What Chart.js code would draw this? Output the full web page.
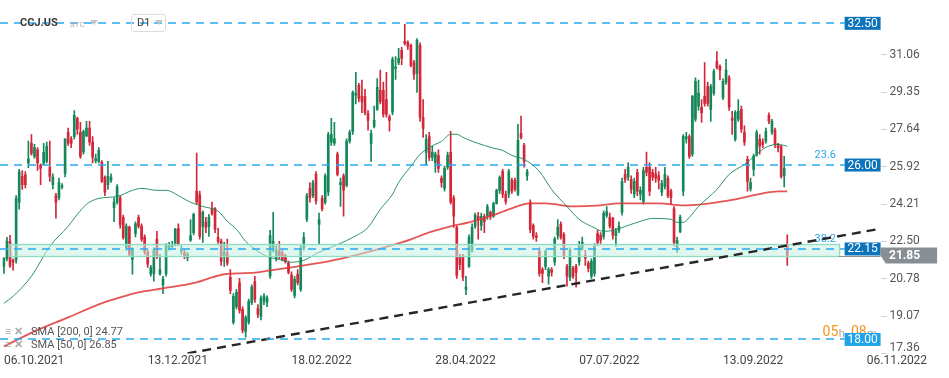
<!DOCTYPE html>
<html><head><meta charset="utf-8">
<script src="https://cdn.jsdelivr.net/npm/chart.js@4/dist/chart.umd.min.js"></script>
<style>
html,body{margin:0;padding:0;background:#fff;}
#wrap{position:relative;width:949px;height:378px;overflow:hidden;font-family:Roboto,"Noto Sans",Arial,sans-serif;}
canvas{position:absolute;left:0;top:0;}
.o{position:absolute;white-space:nowrap;line-height:12px;}
.tri{position:absolute;width:0;height:0;border-left:4px solid transparent;border-right:4px solid transparent;border-top:5px solid #c4c4c4;}
</style></head><body>
<div id="wrap">
<canvas id="c" width="949" height="378"></canvas>
<div class="o" id="sym" style="left:20px;top:17px;font-size:11px;font-weight:bold;color:#3a3a3a;"></div>
<div class="o" id="typ" style="left:70px;top:19px;font-size:8px;color:#b0b0b0;"></div>
<div class="tri" style="left:90px;top:20px;"></div>
<div class="o" style="left:131px;top:14px;width:33px;height:16px;border:1px solid #dcdcdc;border-radius:3px;"></div>
<div class="o" id="tf" style="left:137px;top:17px;font-size:11px;color:#3a3a3a;"></div>
<div class="tri" style="left:155px;top:20px;"></div>
<div class="o" style="left:5px;top:326px;font-size:11px;color:#a8a8a8;font-weight:bold;">≡ ✕</div>
<div class="o" id="lg1" style="left:31px;top:326px;font-size:11px;color:#555;"></div>
<div class="o" style="left:5px;top:339px;font-size:11px;color:#a8a8a8;font-weight:bold;">≡ ✕</div>
<div class="o" id="lg2" style="left:31px;top:339px;font-size:11px;color:#555;"></div>
</div>
<script>
// ---------------- data ----------------
const symbol = 'CCJ.US', instrumentType = 'STC', timeframe = 'D1';
const tickLabels = ['06.10.2021','13.12.2021','18.02.2022','28.04.2022','07.07.2022','13.09.2022','06.11.2022'];
const tickEvery = 47;
const futureSlots = 30;
const priceTicks = [17.36, 19.07, 20.78, 22.50, 24.21, 25.92, 27.64, 29.35, 31.06];

const open = [
21.35,21.70,22.50,21.63,21.65,24.30,25.48,25.55,26.10,27.00,
26.40,26.70,25.99,26.08,26.17,25.90,25.10,24.60,24.50,25.00,
25.60,27.50,27.20,27.30,28.14,27.50,26.60,27.33,27.70,27.05,
26.20,26.17,26.12,25.44,25.10,25.30,24.05,24.30,24.50,23.60,
22.20,23.15,21.67,22.86,23.60,23.20,22.70,22.00,21.00,21.00,
22.60,21.00,20.50,21.00,22.20,22.25,22.35,23.10,22.05,21.97,
21.75,22.55,22.90,24.80,24.65,23.19,23.38,23.19,24.00,24.00,
22.68,22.50,21.80,21.99,20.85,18.78,19.50,20.60,19.38,18.37,
18.80,19.70,20.66,19.42,19.06,19.75,19.70,20.90,22.10,21.70,
22.05,21.97,21.85,21.50,20.95,20.02,20.99,20.30,22.20,23.50,
24.93,24.60,25.57,23.28,24.47,24.30,24.75,27.05,27.00,26.50,
25.10,25.50,25.07,27.10,27.54,29.20,29.66,29.15,29.15,28.37,
26.99,27.77,28.55,29.43,29.43,29.00,28.20,28.42,30.43,30.70,
31.26,31.67,31.63,31.49,30.70,30.20,31.49,28.19,26.58,27.30,
26.35,26.10,26.44,25.39,24.93,25.90,26.58,24.50,23.14,21.80,
21.82,20.30,21.35,22.10,23.20,23.65,23.23,23.65,23.65,23.83,
23.65,24.24,24.84,25.71,24.66,24.66,25.30,25.30,24.66,27.45,
26.90,25.50,24.30,23.23,22.75,22.05,21.20,21.35,20.90,21.20,
21.54,22.77,23.28,22.82,21.35,20.85,21.26,21.35,21.54,22.18,
21.86,21.50,20.90,21.03,22.86,22.77,22.73,23.69,23.60,23.55,
22.77,23.00,23.83,25.57,25.44,25.34,24.66,25.66,24.66,24.33,
25.90,25.90,25.66,25.60,25.50,24.75,25.02,25.39,24.80,24.00,
22.20,22.95,24.80,27.20,27.30,26.50,28.10,28.70,28.65,29.15,
29.60,28.55,29.30,30.76,30.53,29.10,29.80,30.00,28.15,27.18,
28.10,28.55,27.50,26.26,24.90,25.80,26.50,27.18,27.05,27.10,
28.28,27.50,27.60,26.95,26.86,25.50,22.36];
const high = [
21.75,22.68,22.77,21.70,24.60,25.80,25.75,25.70,27.10,27.40,
26.95,26.80,26.05,27.00,27.05,27.10,25.60,24.70,25.40,25.15,
27.20,27.70,27.30,28.50,28.20,27.96,27.60,28.00,28.00,27.30,
26.50,26.80,26.20,25.50,26.17,25.60,24.50,25.10,24.60,23.70,
23.30,23.20,22.20,23.40,23.70,23.30,22.80,22.10,21.40,22.20,
22.96,21.90,20.90,22.40,22.45,22.50,23.10,23.30,22.30,22.10,
22.00,23.50,23.80,26.55,24.80,23.90,23.60,23.74,24.30,24.05,
23.10,22.60,22.45,22.60,21.20,20.10,20.30,20.80,19.50,19.10,
19.85,20.50,20.90,19.60,20.00,20.10,20.00,23.00,23.83,22.30,
22.50,22.10,21.90,21.60,21.10,20.90,21.20,22.30,22.90,24.70,
25.20,25.30,25.70,23.80,24.60,25.60,27.50,28.14,27.96,26.60,
25.40,25.60,27.20,27.60,29.40,30.25,29.75,29.90,29.47,28.50,
27.60,28.70,29.97,30.35,29.80,30.25,28.30,30.95,30.98,31.35,
31.40,32.45,31.70,31.55,30.80,31.80,31.60,29.00,27.40,27.50,
26.86,26.60,26.70,25.50,25.95,26.60,27.55,24.60,23.20,21.90,
21.90,20.90,22.80,23.30,23.80,23.83,23.80,23.75,24.20,23.90,
24.30,24.90,25.50,25.80,24.80,25.80,25.40,25.40,27.87,28.25,
27.00,25.80,24.40,23.30,22.90,22.20,21.30,22.10,21.30,21.30,
22.70,23.50,23.40,22.90,21.45,22.20,21.35,21.45,22.50,22.70,
22.10,21.60,21.70,22.40,23.00,22.90,23.90,24.10,23.80,23.60,
23.10,23.40,25.40,25.80,26.10,25.50,25.40,25.80,25.00,25.90,
26.60,26.10,25.80,25.90,25.70,25.30,25.90,25.50,24.90,24.10,
22.70,23.70,27.40,27.50,27.40,29.20,30.00,29.90,29.00,30.70,
29.80,29.70,30.40,31.20,30.60,29.95,30.85,30.10,28.46,28.50,
29.00,28.70,27.80,26.40,25.40,26.50,27.60,27.40,27.20,27.70,
28.40,28.10,27.70,27.00,26.90,26.40,22.80];
const low = [
21.03,21.60,21.30,21.18,21.50,23.97,24.88,24.95,25.88,26.45,
26.30,25.75,25.10,26.00,26.10,25.25,24.90,23.56,24.40,24.90,
25.45,26.90,26.80,27.20,27.40,26.30,26.50,27.30,26.90,26.10,
26.10,26.10,25.20,24.60,24.88,25.20,23.40,24.20,23.10,22.60,
22.10,21.80,20.99,22.70,23.10,22.50,21.90,21.30,20.90,20.67,
21.70,20.95,20.10,20.90,22.10,22.20,22.30,22.30,21.90,21.70,
21.60,22.50,22.80,24.20,22.60,22.45,22.90,22.73,23.70,22.90,
22.40,21.40,21.35,21.40,20.10,18.70,19.40,19.20,18.30,18.10,
18.70,19.60,19.70,19.00,18.90,19.60,19.50,20.80,22.00,21.60,
21.70,21.60,21.50,21.00,20.20,19.90,20.50,20.20,22.10,23.40,
24.30,24.50,24.20,22.36,23.90,24.20,24.60,26.90,26.90,25.50,
24.10,23.65,25.00,27.00,27.40,28.80,28.90,28.40,28.30,27.60,
26.17,27.70,28.50,28.80,28.20,28.20,27.55,28.30,29.93,30.60,
30.60,31.50,31.30,30.50,29.93,29.33,28.00,27.27,26.00,26.20,
26.20,25.66,25.66,24.98,24.80,25.80,24.20,23.14,20.80,21.20,
20.70,20.05,21.30,22.00,23.10,22.60,23.00,22.90,23.50,23.50,
23.60,24.20,24.70,24.50,24.20,24.50,24.70,24.80,24.60,27.20,
25.90,25.30,22.90,22.60,22.50,20.90,20.60,21.20,20.53,20.90,
21.40,22.60,22.60,21.70,20.44,20.70,20.80,20.40,21.40,22.10,
21.40,21.10,20.80,20.90,22.30,22.40,22.60,23.60,23.10,22.60,
22.27,22.90,23.70,25.20,25.30,24.70,24.50,24.60,24.40,24.20,
25.50,24.60,25.30,25.20,24.90,24.60,24.90,24.50,24.20,22.30,
21.99,22.90,24.60,27.00,26.30,26.40,28.00,28.50,27.96,28.70,
28.70,28.00,29.20,30.40,29.90,29.00,29.70,28.50,27.40,27.10,
28.00,27.50,26.90,24.80,24.80,25.50,26.40,26.50,26.80,27.00,
27.90,27.40,26.80,26.60,25.40,25.00,21.40];
const close = [
21.72,22.51,21.37,21.55,24.47,25.70,25.10,25.10,26.29,26.53,
26.80,26.10,25.85,26.58,26.86,25.48,25.45,24.30,25.20,25.05,
27.20,27.00,27.00,28.28,27.64,26.40,27.54,27.70,27.05,26.35,
26.30,26.67,25.25,24.75,25.48,25.45,24.30,25.00,23.28,22.68,
23.20,21.90,22.10,23.30,23.20,22.60,22.00,21.45,21.30,22.10,
21.80,21.20,20.78,22.30,22.30,22.35,23.05,22.35,22.15,21.80,
21.90,22.75,23.74,24.30,22.73,23.83,23.14,23.60,23.78,23.05,
22.50,21.58,22.00,21.50,20.25,19.98,20.16,19.33,18.42,19.00,
19.75,20.40,19.84,19.15,19.90,20.00,19.90,22.78,22.50,22.10,
21.80,21.67,21.58,21.08,20.30,20.76,20.60,22.20,22.67,24.60,
24.50,25.20,24.35,23.50,24.00,25.50,27.40,27.40,27.20,25.57,
25.20,24.85,27.10,27.50,29.33,29.30,29.06,28.90,28.40,28.05,
27.45,28.05,29.56,28.92,28.33,28.33,28.05,30.85,30.50,30.90,
30.90,31.58,31.44,30.57,30.16,31.72,28.19,27.68,27.18,26.35,
26.58,26.50,25.85,25.20,25.85,26.44,24.30,23.65,20.94,21.44,
20.85,20.40,22.70,23.14,23.70,23.50,23.65,23.40,24.10,23.65,
24.24,24.84,25.44,24.66,24.33,25.71,24.80,24.90,27.13,27.27,
26.17,25.70,23.05,22.73,22.68,21.03,21.03,22.05,21.20,21.08,
22.60,23.14,22.68,21.81,20.90,22.10,20.90,21.08,22.36,22.45,
21.72,21.26,21.58,22.27,22.45,22.55,23.78,23.87,23.20,22.77,
22.96,23.20,25.25,25.34,25.90,24.88,25.25,24.80,24.84,25.75,
25.66,24.80,25.44,25.40,25.30,25.16,25.57,24.60,24.50,22.45,
22.55,23.60,27.32,27.30,26.40,29.15,29.84,29.30,28.40,28.83,
28.83,29.60,30.30,30.48,30.35,29.84,30.35,28.65,28.05,28.42,
28.47,27.64,27.05,25.25,25.20,26.40,27.50,26.86,26.95,27.55,
28.00,28.00,26.95,26.80,25.48,25.85,21.85];

// SMA lines (candle number -> value)
const sma50At  = [0,3,9,15,21,24,27,31,37,42,45,50,53,58,61,65,70,73,76,79,83,86,90,94,98,103,110,114,119,123,127,129,133,136,139,143,146,148,150,153,157,160,163,166,170,175,179,184,188,192,196,199,204,208,212,218,220,222,224,227,233,237,242,246,249,253,256];
const sma50Val = [19.66,19.98,20.9,22.27,23.19,23.74,24.2,24.47,24.56,24.84,24.93,24.84,24.84,24.52,24.29,24.1,23.88,23.42,23.05,22.5,22.04,21.81,21.67,21.54,21.63,22.0,22.41,22.68,23.14,23.97,24.66,25.2,25.94,26.49,26.81,27.09,27.41,27.41,27.27,27.09,26.9,26.77,26.67,26.44,26.26,25.71,24.88,24.1,23.51,23.19,22.96,23.0,23.23,23.42,23.55,23.51,23.37,23.37,23.6,24.1,24.88,25.57,26.03,26.49,26.81,26.95,26.86];
const sma200At  = [0,10,21,31,38,44,52,63,67,72,76,83,87,94,106,116,130,133,139,146,152,159,165,172,177,186,195,201,208,214,222,228,235,242,248,253,256];
const sma200Val = [17.68,18.37,19.01,19.61,19.93,20.16,20.34,20.62,20.8,20.99,21.03,21.08,21.17,21.31,21.58,21.9,22.45,22.59,22.91,23.19,23.37,23.65,23.97,24.24,24.24,24.1,24.15,24.24,24.24,24.24,24.15,24.2,24.33,24.52,24.7,24.79,24.79];
const smaLegend = ['SMA [200, 0] 24.77', 'SMA [50, 0] 26.85'];

const trendAt = [60, 286];
const trendVal = [17.36, 23.07];
const levels = [32.50, 26.00, 22.15, 18.00];
const zone = [21.81, 22.36];
const fibLabels = [{t: '23.6', at: 26.00}, {t: '38.2', at: 22.15}];
const countdown = ['05', 'h', '08', 'm'];

// ---------------- build ----------------
document.getElementById('sym').textContent = symbol;
document.getElementById('typ').textContent = instrumentType;
document.getElementById('tf').textContent = timeframe;
document.getElementById('lg1').textContent = smaLegend[0];
document.getElementById('lg2').textContent = smaLegend[1];

const N = close.length;
const total = N + futureSlots;
const categories = Array.from({length: total}, (_, i) => String(i));
const GREEN = '#15885a', RED = '#d42739';
const up = close.map((c, i) => c >= open[i]);
const candleColors = up.map(u => u ? GREEN : RED);
function sparse(at, val) { const a = new Array(total).fill(null); at.forEach((k, j) => a[k] = val[j]); return a; }

const LEVEL_BLUE = '#27a9f2';
const overlay = {
  id: 'overlay',
  beforeDatasetDraw(chart, args) {
    if (chart.data.datasets[args.index].label !== 'trend') return;
    const {ctx, chartArea: ca, scales: {y}} = chart;
    ctx.save();
    ctx.globalAlpha = 1;
    const zt = Math.round(y.getPixelForValue(zone[1])) + 0.5;
    const zb = Math.round(y.getPixelForValue(zone[0])) + 0.5;
    const zl = ca.left + 7, zr = ca.right - 41;
    ctx.fillStyle = 'rgba(196,240,225,0.55)';
    ctx.fillRect(zl, zt, zr - zl, zb - zt);
    ctx.setLineDash([]);
    ctx.strokeStyle = '#8fdcc2'; ctx.lineWidth = 1.3;
    ctx.strokeRect(zl, zt, zr - zl, zb - zt);
    ctx.font = '11px Roboto'; ctx.fillStyle = '#2aa6ea'; ctx.textBaseline = 'middle'; ctx.textAlign = 'left';
    fibLabels.forEach(f => ctx.fillText(f.t, ca.right - 66, y.getPixelForValue(f.at) - 9.5));
    ctx.restore();
  },
  afterDatasetsDraw(chart) {
    const {ctx, chartArea: ca, scales: {y}} = chart;
    ctx.save();
    ctx.globalAlpha = 1;
    // horizontal levels
    levels.forEach(v => {
      const yy = Math.round(y.getPixelForValue(v));
      ctx.save();
      ctx.setLineDash([8, 6]);
      ctx.lineWidth = 1.6;
      ctx.strokeStyle = LEVEL_BLUE;
      ctx.beginPath(); ctx.moveTo(0, yy); ctx.lineTo(ca.right - 36, yy);
      ctx.stroke();
      ctx.restore();
    });
    ctx.textBaseline = 'middle'; ctx.textAlign = 'left';
    // countdown
    let cx = ca.right - 58; const cy = y.getPixelForValue(levels[3]) - 6.5;
    countdown.forEach((s, k) => {
      const big = k % 2 === 0;
      ctx.font = big ? '14px Roboto' : '11px Roboto';
      ctx.fillStyle = big ? '#f7931e' : '#a9a9a9';
      ctx.fillText(s, cx, cy + (big ? 0 : 1));
      cx += ctx.measureText(s).width + (k === 1 ? 6 : 0.5);
    });
    // level tags
    ctx.font = '12px Roboto'; ctx.textAlign = 'center';
    levels.forEach((v, k) => {
      const yy = y.getPixelForValue(v);
      ctx.fillStyle = k === 3 ? '#1ea4e8' : '#0b74bb';
      ctx.fillRect(ca.right - 36, yy - 6.5, 36, 13);
      ctx.fillStyle = '#fff';
      ctx.fillText(v.toFixed(2), ca.right - 18, yy + 0.5);
    });
    // current price
    const last = close[N - 1];
    const py = y.getPixelForValue(last);
    ctx.setLineDash([]);
    ctx.strokeStyle = '#8a9297'; ctx.lineWidth = 1;
    ctx.beginPath(); ctx.moveTo(ca.right - 42, Math.round(py) + 0.5); ctx.lineTo(ca.right, Math.round(py) + 0.5); ctx.stroke();
    ctx.fillStyle = '#878f94';
    ctx.beginPath();
    ctx.moveTo(ca.right, py - 8); ctx.lineTo(ca.right + 56.5, py - 8); ctx.lineTo(ca.right + 56.5, py + 8);
    ctx.lineTo(ca.right + 5, py + 8); ctx.lineTo(ca.right, py); ctx.closePath(); ctx.fill();
    ctx.fillStyle = '#fff'; ctx.font = 'bold 12px Roboto';
    ctx.fillText(last.toFixed(2), ca.right + 24, py + 0.5);
    // lowest axis label (kept above the date row)
    ctx.fillStyle = '#555'; ctx.font = '12px Roboto'; ctx.textAlign = 'left';
    ctx.fillText(priceTicks[0].toFixed(2), ca.right + 9, ca.bottom - 5.5);
    ctx.restore();
  }
};

Chart.defaults.font.family = 'Roboto, "Noto Sans", sans-serif';
new Chart(document.getElementById('c'), {
  type: 'bar',
  data: {
    labels: categories,
    datasets: [
      {label: 'trend', type: 'line', data: sparse(trendAt, trendVal), spanGaps: true, borderColor: '#262626', borderWidth: 2.4, borderDash: [9, 6], pointRadius: 0, order: 0},
      {label: 'sma50', type: 'line', data: sparse(sma50At, sma50Val), spanGaps: true, borderColor: 'rgba(22,136,88,0.9)', borderWidth: 1, pointRadius: 0, cubicInterpolationMode: 'monotone', order: 2},
      {label: 'sma200', type: 'line', data: sparse(sma200At, sma200Val), spanGaps: true, borderColor: 'rgba(225,55,55,0.85)', borderWidth: 1.8, pointRadius: 0, cubicInterpolationMode: 'monotone', order: 3},
      {label: 'body', data: open.map((o, i) => [o, close[i]]), backgroundColor: candleColors, borderWidth: 0, barThickness: 2, minBarLength: 1, grouped: false, order: 4},
      {label: 'wick', data: low.map((l, i) => [l, high[i]]), backgroundColor: candleColors, borderWidth: 0, barThickness: 1, grouped: false, order: 5}
    ]
  },
  options: {
    responsive: false, animation: false, devicePixelRatio: 1,
    layout: {padding: {left: 2.37, right: 0, top: 0, bottom: 0}},
    plugins: {legend: {display: false}, tooltip: {enabled: false}},
    scales: {
      x: {
        type: 'category', offset: true,
        grid: {display: false, drawTicks: false}, border: {display: false},
        ticks: {autoSkip: false, maxRotation: 0, minRotation: 0, align: 'start', padding: 0, color: '#444', font: {size: 12},
          callback: (v, i) => i % tickEvery === 0 && tickLabels[i / tickEvery] ? tickLabels[i / tickEvery] : ''},
        afterFit: s => { s.height = 24.6; s.paddingLeft = 0; s.paddingRight = 0; }
      },
      y: {
        position: 'right', min: 17.36, max: 33.57,
        afterBuildTicks: s => { s.ticks = priceTicks.map(v => ({value: v})); },
        afterFit: s => { s.width = 68.4; s.paddingTop = 0; s.paddingBottom = 0; },
        grid: {drawOnChartArea: false, drawTicks: true, tickLength: 6, color: '#d0d0d0'},
        border: {display: false},
        ticks: {padding: 3, color: '#555', font: {size: 12}, callback: v => v === priceTicks[0] ? '' : v.toFixed(2)}
      }
    }
  },
  plugins: [overlay]
});
</script>
</body></html>
